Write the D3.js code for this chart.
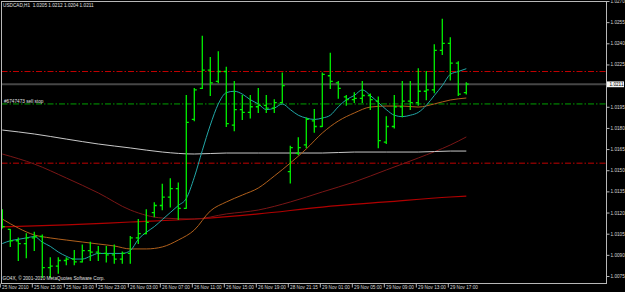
<!DOCTYPE html>
<html>
<head>
<meta charset="utf-8">
<script src="https://cdn.jsdelivr.net/npm/d3@7"></script>
<style>
  body { margin: 0; background: #000; }
  svg { display: block; }
  text { font-family: 'Liberation Sans', Arial, sans-serif; }
</style>
</head>
<body>
<div class="chart"></div>
<script>
// USDCAD H1, 25 Nov 11:00 -> 29 Nov 19:00 (one value per bar)
const opens = [1.0113, 1.0108, 1.0100, 1.0098, 1.0102, 1.0103, 1.0081, 1.0082, 1.0086, 1.0087,
  1.0085, 1.0093, 1.0092, 1.0091, 1.0090, 1.0087, 1.0091, 1.0102, 1.0105, 1.0120,
  1.0125, 1.0131, 1.0137, 1.0123, 1.0186, 1.0208, 1.0221, 1.0213, 1.0220, 1.0182,
  1.0193, 1.0191, 1.0195, 1.0196, 1.0194, 1.0198, 1.0149, 1.0162, 1.0168, 1.0185,
  1.0181, 1.0217, 1.0212, 1.0202, 1.0200, 1.0201, 1.0203, 1.0199, 1.0170, 1.0181,
  1.0195, 1.0199, 1.0198, 1.0206, 1.0207, 1.0235, 1.0240, 1.0226, 1.0205];
const highs = [1.0122, 1.0108, 1.0102, 1.0105, 1.0106, 1.0104, 1.0088, 1.0088, 1.0088, 1.0093,
  1.0097, 1.0099, 1.0096, 1.0096, 1.0097, 1.0092, 1.0103, 1.0115, 1.0122, 1.0127,
  1.0140, 1.0144, 1.0141, 1.0203, 1.0208, 1.0245, 1.0230, 1.0234, 1.0223, 1.0213,
  1.0203, 1.0203, 1.0208, 1.0203, 1.0200, 1.0219, 1.0167, 1.0173, 1.0187, 1.0193,
  1.0219, 1.0233, 1.0213, 1.0203, 1.0205, 1.0213, 1.0204, 1.0202, 1.0188, 1.0203,
  1.0213, 1.0213, 1.0222, 1.0220, 1.0239, 1.0257, 1.0244, 1.0227, 1.0212];
const lows = [1.0109, 1.0096, 1.0086, 1.0088, 1.0093, 1.0074, 1.0074, 1.0077, 1.0083, 1.0083,
  1.0085, 1.0086, 1.0086, 1.0085, 1.0084, 1.0084, 1.0084, 1.0098, 1.0105, 1.0117,
  1.0122, 1.0124, 1.0115, 1.0123, 1.0185, 1.0208, 1.0203, 1.0212, 1.0181, 1.0178,
  1.0186, 1.0187, 1.0191, 1.0191, 1.0191, 1.0198, 1.0141, 1.0161, 1.0166, 1.0177,
  1.0181, 1.0208, 1.0201, 1.0196, 1.0198, 1.0198, 1.0193, 1.0166, 1.0169, 1.0180,
  1.0188, 1.0193, 1.0196, 1.0200, 1.0205, 1.0232, 1.0214, 1.0203, 1.0204];
const closes = [1.0110, 1.0100, 1.0098, 1.0102, 1.0103, 1.0081, 1.0082, 1.0086, 1.0087, 1.0085,
  1.0093, 1.0092, 1.0091, 1.0090, 1.0087, 1.0091, 1.0102, 1.0105, 1.0113, 1.0125,
  1.0131, 1.0137, 1.0123, 1.0184, 1.0207, 1.0221, 1.0212, 1.0220, 1.0183, 1.0193,
  1.0191, 1.0195, 1.0196, 1.0194, 1.0198, 1.0210, 1.0166, 1.0166, 1.0186, 1.0181,
  1.0218, 1.0213, 1.0208, 1.0200, 1.0201, 1.0203, 1.0200, 1.0171, 1.0181, 1.0195,
  1.0199, 1.0198, 1.0206, 1.0207, 1.0235, 1.0240, 1.0226, 1.0204, 1.0211];

// moving averages
const maFast = [1.0098, 1.0100, 1.0101, 1.0102, 1.0103, 1.0099, 1.0096, 1.0092, 1.0089, 1.0087,
  1.0087, 1.0089, 1.0091, 1.0091, 1.0091, 1.0091, 1.0093, 1.0101, 1.0106, 1.0110,
  1.0115, 1.0120, 1.0125, 1.0130, 1.0145, 1.0164, 1.0182, 1.0197, 1.0205, 1.0206,
  1.0204, 1.0200, 1.0197, 1.0193, 1.0194, 1.0197, 1.0193, 1.0189, 1.0187, 1.0186,
  1.0187, 1.0189, 1.0195, 1.0200, 1.0203, 1.0207, 1.0203, 1.0198, 1.0193, 1.0189,
  1.0188, 1.0189, 1.0191, 1.0196, 1.0203, 1.0210, 1.0218, 1.0220, 1.0222];
const midBars = [0, 2, 4, 6, 8, 10, 12, 14, 16, 18, 20, 22, 24, 26, 28, 30, 32, 34, 36, 38, 40, 42, 44, 46, 48, 50, 52, 54, 56, 58];
const maMid = [1.01154, 1.01090, 1.01041, 1.01020, 1.01005, 1.00991, 1.00977, 1.00963, 1.00942, 1.00942,
  1.00956, 1.01005, 1.01076, 1.01211, 1.01275, 1.01324, 1.01374, 1.01459, 1.01551, 1.01651,
  1.01764, 1.01849, 1.01906, 1.01948, 1.01955, 1.01955, 1.01948, 1.01970, 1.01998, 1.02012];
const slowBars = [0, 4, 8, 12, 16, 20, 24, 28, 32, 36, 40, 44, 48, 52, 56, 58];
const maSlow = [1.01615, 1.01544, 1.01445, 1.01339, 1.01218, 1.01161, 1.01154, 1.01190,
  1.01218, 1.01275, 1.01346, 1.01417, 1.01502, 1.01587, 1.01679, 1.01736];
const maWhite = [1.01785, 1.01757, 1.01721, 1.01686, 1.01658, 1.01629, 1.01615, 1.01622,
  1.01622, 1.01622, 1.01622, 1.01629, 1.01629, 1.01629, 1.01636, 1.01636];
const longBars = [0, 8, 16, 24, 32, 40, 48, 56, 58];
const maLong = [1.01098, 1.01112, 1.01133, 1.01154, 1.01190, 1.01239, 1.01275, 1.01310, 1.01317];

const redLevels = [1.0220, 1.0155];
const sellStop = 1.0197;
const bid = 1.0211;

const yTicks = [1.0270, 1.0255, 1.0240, 1.0225, 1.0195, 1.0180, 1.0165, 1.0150, 1.0135, 1.0120, 1.0105, 1.0090, 1.0075];
const xTickBars = [0, 4, 8, 12, 16, 20, 24, 28, 32, 36, 40, 44, 48, 52, 56];
const xLabels = ['25 Nov 2010', '25 Nov 15:00', '25 Nov 19:00', '25 Nov 23:00', '26 Nov 03:00',
  '26 Nov 07:00', '26 Nov 11:00', '26 Nov 15:00', '26 Nov 19:00', '28 Nov 21:15',
  '29 Nov 01:00', '29 Nov 05:00', '29 Nov 09:00', '29 Nov 13:00', '29 Nov 17:00'];

const width = 625, height = 292;
const frame = {left: 1.5, top: 1.5, right: 606.5, bottom: 283.5};
const fs = 4.7;

const svg = d3.select('.chart')
  .append('svg')
  .attr('width', width)
  .attr('height', height);

svg.append('rect').attr('width', width).attr('height', height).attr('fill', '#000');

svg.append('clipPath').attr('id', 'plot')
  .append('rect')
  .attr('x', frame.left).attr('y', frame.top)
  .attr('width', frame.right - frame.left).attr('height', frame.bottom - frame.top);

const xScale = d3.scaleLinear().domain([0, 58]).range([2.3, 466.3]);
const yScale = d3.scaleLinear().domain([1.0075, 1.0270]).range([276, 1]);

const g = svg.append('g').attr('clip-path', 'url(#plot)');

// horizontal order / price lines
g.selectAll('.red-level')
  .data(redLevels)
  .enter()
  .append('line')
  .attr('x1', frame.left).attr('x2', frame.right)
  .attr('y1', d => yScale(d)).attr('y2', d => yScale(d))
  .attr('stroke', '#c00000')
  .attr('stroke-dasharray', '6,2,1.5,2');

g.append('line')
  .attr('x1', frame.left).attr('x2', frame.right)
  .attr('y1', yScale(sellStop)).attr('y2', yScale(sellStop))
  .attr('stroke', '#00a000')
  .attr('stroke-dasharray', '6,2,1.5,2');

g.append('line')
  .attr('x1', frame.left).attr('x2', frame.right)
  .attr('y1', yScale(bid)).attr('y2', yScale(bid))
  .attr('stroke', '#464646')
  .attr('stroke-width', 2);

// moving averages
const line = d3.line().x(d => xScale(d[0])).y(d => yScale(d[1]));

const maSeries = [
  {pts: longBars.map((b, i) => [b, maLong[i]]), color: '#b00000', w: 1.2},
  {pts: slowBars.map((b, i) => [b, maSlow[i]]), color: '#7a1616', w: 1},
  {pts: slowBars.map((b, i) => [b, maWhite[i]]), color: '#c8c8c8', w: 1},
  {pts: midBars.map((b, i) => [b, maMid[i]]), color: '#b0601c', w: 1},
  {pts: maFast.map((v, i) => [i, v]), color: '#22a6a6', w: 1}
];

g.selectAll('.ma')
  .data(maSeries)
  .enter()
  .append('path')
  .attr('d', d => line.curve(d3.curveMonotoneX)(d.pts))
  .attr('fill', 'none')
  .attr('stroke', d => d.color)
  .attr('stroke-width', d => d.w);

// OHLC bars
const bars = g.selectAll('.bar')
  .data(opens)
  .enter()
  .append('g')
  .attr('stroke', '#00f000')
  .attr('stroke-width', 1.3);

bars.append('line')
  .attr('x1', (d, i) => xScale(i)).attr('x2', (d, i) => xScale(i))
  .attr('y1', (d, i) => yScale(highs[i]) - 0.5).attr('y2', (d, i) => yScale(lows[i]) + 0.5);

bars.append('line')
  .attr('x1', (d, i) => xScale(i) - 2.5).attr('x2', (d, i) => xScale(i))
  .attr('y1', d => yScale(d)).attr('y2', d => yScale(d));

bars.append('line')
  .attr('x1', (d, i) => xScale(i)).attr('x2', (d, i) => xScale(i) + 2.5)
  .attr('y1', (d, i) => yScale(closes[i])).attr('y2', (d, i) => yScale(closes[i]));

// frame
svg.append('rect')
  .attr('x', frame.left).attr('y', frame.top)
  .attr('width', frame.right - frame.left).attr('height', frame.bottom - frame.top)
  .attr('fill', 'none')
  .attr('stroke', '#b8b8b8');

// price axis
const yAxis = d3.axisRight(yScale)
  .tickValues(yTicks)
  .tickSize(3)
  .tickPadding(1)
  .tickFormat(d3.format('.4f'));

svg.append('g')
  .attr('class', 'axis y-axis')
  .attr('transform', `translate(${frame.right},0)`)
  .call(yAxis)
  .call(a => a.select('.domain').remove())
  .call(a => a.selectAll('line').attr('stroke', '#b8b8b8'))
  .call(a => a.selectAll('text').attr('font-size', fs).attr('font-family', 'Liberation Sans').attr('fill', '#d8d8d8'));

// time axis
const xAxis = d3.axisBottom(xScale)
  .tickValues(xTickBars)
  .tickSize(4)
  .tickFormat((d, i) => xLabels[i]);

svg.append('g')
  .attr('class', 'axis x-axis')
  .attr('transform', `translate(-2.5,${frame.bottom})`)
  .call(xAxis)
  .call(a => a.select('.domain').remove())
  .call(a => a.selectAll('line').attr('stroke', '#b8b8b8'))
  .call(a => a.selectAll('text')
    .attr('font-size', fs).attr('font-family', 'Liberation Sans').attr('fill', '#d8d8d8')
    .attr('text-anchor', 'start').attr('x', 1.8).attr('y', 1.8));

// bid label on price axis
svg.append('rect')
  .attr('x', frame.right + 0.5).attr('y', yScale(bid) - 2.8)
  .attr('width', 17).attr('height', 5.8)
  .attr('fill', '#f4f4f4');
svg.append('text')
  .attr('x', frame.right + 3).attr('y', yScale(bid) + 1.7)
  .attr('font-size', fs).attr('fill', '#000')
  .text(d3.format('.4f')(bid));

// texts
const last = opens.length - 1;
svg.append('text')
  .attr('x', 3).attr('y', 6.8)
  .attr('font-size', fs).attr('fill', '#e0e0e0')
  .style('white-space', 'pre')
  .text('USDCAD,H1  ' + [opens[last], highs[last], lows[last], closes[last]].map(d3.format('.4f')).join(' '));

svg.append('text')
  .attr('x', 4).attr('y', yScale(sellStop) - 1)
  .attr('font-size', fs).attr('fill', '#e0e0e0')
  .text('#6747473 sell stop');

svg.append('text')
  .attr('x', 2.5).attr('y', 280.3)
  .attr('font-size', fs).attr('fill', '#e0e0e0')
  .text('GO4X, © 2001-2010 MetaQuotes Software Corp.');
</script>
</body>
</html>
